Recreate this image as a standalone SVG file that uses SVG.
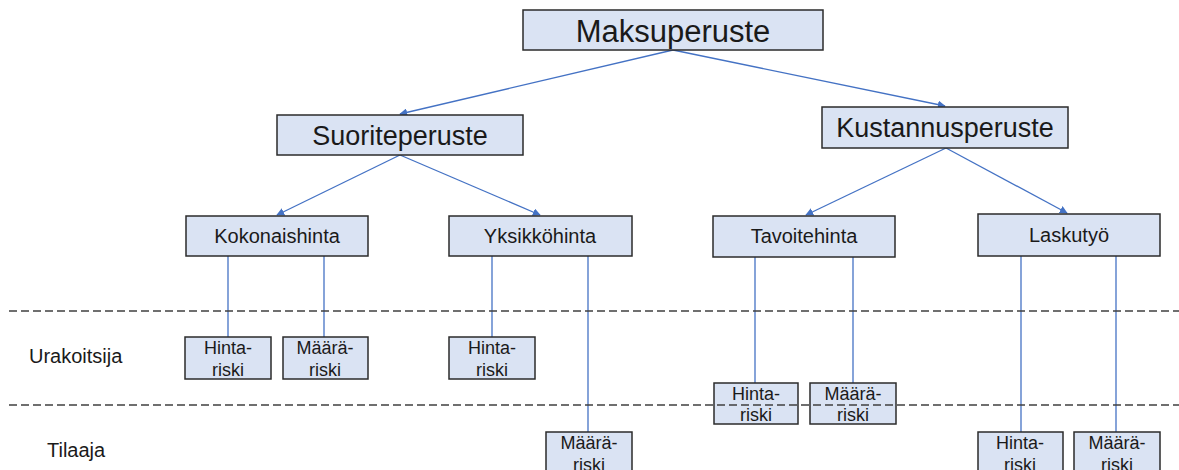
<svg xmlns="http://www.w3.org/2000/svg" width="1179" height="470" viewBox="0 0 1179 470">
<style>
.box{fill:#DAE3F3;stroke:#2b2b2b;stroke-width:1.5}
.t{font-family:"Liberation Sans",Arial,sans-serif;fill:#1a1a1a;text-anchor:middle}
.lbl{font-family:"Liberation Sans",Arial,sans-serif;fill:#1a1a1a;font-size:20px}
.c{stroke:#4472C4;stroke-width:1.3;fill:none}
.dash{stroke:#404040;stroke-width:1.3;stroke-dasharray:8 4;fill:none}
</style>
<defs>
<marker id="ah" viewBox="0 0 10 10" refX="9" refY="5" markerWidth="8" markerHeight="8" markerUnits="userSpaceOnUse" orient="auto">
<path d="M0,0 L10,5 L0,10 z" fill="#4472C4"/>
</marker>
</defs>
<rect width="1179" height="470" fill="#ffffff"/>
<g id="connectors">
<line class="c" x1="673" y1="50" x2="400" y2="114" marker-end="url(#ah)"/>
<line class="c" x1="673" y1="50" x2="945" y2="106" marker-end="url(#ah)"/>
<line class="c" x1="400" y1="155" x2="277" y2="215" marker-end="url(#ah)"/>
<line class="c" x1="400" y1="155" x2="540" y2="215" marker-end="url(#ah)"/>
<line class="c" x1="946" y1="148" x2="806" y2="215" marker-end="url(#ah)"/>
<line class="c" x1="946" y1="148" x2="1067" y2="213" marker-end="url(#ah)"/>
<line class="c" x1="228" y1="256" x2="228" y2="337"/>
<line class="c" x1="324" y1="256" x2="324" y2="337"/>
<line class="c" x1="492" y1="256" x2="492" y2="337"/>
<line class="c" x1="588" y1="256" x2="588" y2="432"/>
<line class="c" x1="755" y1="257" x2="755" y2="383"/>
<line class="c" x1="853" y1="257" x2="853" y2="383"/>
<line class="c" x1="1021" y1="256" x2="1021" y2="432"/>
<line class="c" x1="1116" y1="256" x2="1116" y2="432"/>
</g>
<g id="maksuperuste"><rect class="box" x="523" y="10" width="300" height="40"/><text class="t" x="673" y="42" font-size="31">Maksuperuste</text></g>
<g id="suoriteperuste"><rect class="box" x="277" y="115" width="246" height="40"/><text class="t" x="400" y="145" font-size="27">Suoriteperuste</text></g>
<g id="kustannusperuste"><rect class="box" x="822" y="107" width="246" height="41"/><text class="t" x="945" y="137" font-size="27">Kustannusperuste</text></g>
<g id="kokonaishinta"><rect class="box" x="186" y="216" width="182" height="40"/><text class="t" x="277" y="243" font-size="20">Kokonaishinta</text></g>
<g id="yksikkohinta"><rect class="box" x="449" y="216" width="183" height="40"/><text class="t" x="540" y="243" font-size="20">Yksikköhinta</text></g>
<g id="tavoitehinta"><rect class="box" x="713" y="216" width="182" height="41"/><text class="t" x="804" y="243" font-size="20">Tavoitehinta</text></g>
<g id="laskutyo"><rect class="box" x="978" y="214" width="182" height="42"/><text class="t" x="1069" y="242" font-size="20">Laskutyö</text></g>
<g id="kok-hintariski"><rect class="box" x="185" y="337" width="86" height="42"/><text class="t" x="228" y="354" font-size="18">Hinta-</text><text class="t" x="228" y="376" font-size="18">riski</text></g>
<g id="kok-maarariski"><rect class="box" x="283" y="337" width="85" height="42"/><text class="t" x="325" y="354" font-size="18">Määrä-</text><text class="t" x="325" y="376" font-size="18">riski</text></g>
<g id="yks-hintariski"><rect class="box" x="449" y="337" width="86" height="42"/><text class="t" x="492" y="354" font-size="18">Hinta-</text><text class="t" x="492" y="376" font-size="18">riski</text></g>
<g id="yks-maarariski"><rect class="box" x="546" y="432" width="86" height="45"/><text class="t" x="589" y="449" font-size="18">Määrä-</text><text class="t" x="589" y="471" font-size="18">riski</text></g>
<g id="tav-hintariski"><rect class="box" x="714" y="383" width="84" height="41"/><text class="t" x="756" y="400" font-size="18">Hinta-</text><text class="t" x="756" y="421" font-size="18">riski</text></g>
<g id="tav-maarariski"><rect class="box" x="810" y="383" width="86" height="41"/><text class="t" x="853" y="400" font-size="18">Määrä-</text><text class="t" x="853" y="421" font-size="18">riski</text></g>
<g id="las-hintariski"><rect class="box" x="978" y="432" width="85" height="45"/><text class="t" x="1020" y="449" font-size="18">Hinta-</text><text class="t" x="1020" y="471" font-size="18">riski</text></g>
<g id="las-maarariski"><rect class="box" x="1074" y="432" width="86" height="45"/><text class="t" x="1117" y="449" font-size="18">Määrä-</text><text class="t" x="1117" y="471" font-size="18">riski</text></g>
<g id="dividers">
<line class="dash" x1="9" y1="311" x2="1179" y2="311"/>
<line class="dash" x1="9" y1="405" x2="1179" y2="405"/>
</g>
<g id="labels">
<text class="lbl" x="29" y="363">Urakoitsija</text>
<text class="lbl" x="47" y="457">Tilaaja</text>
</g>
</svg>
